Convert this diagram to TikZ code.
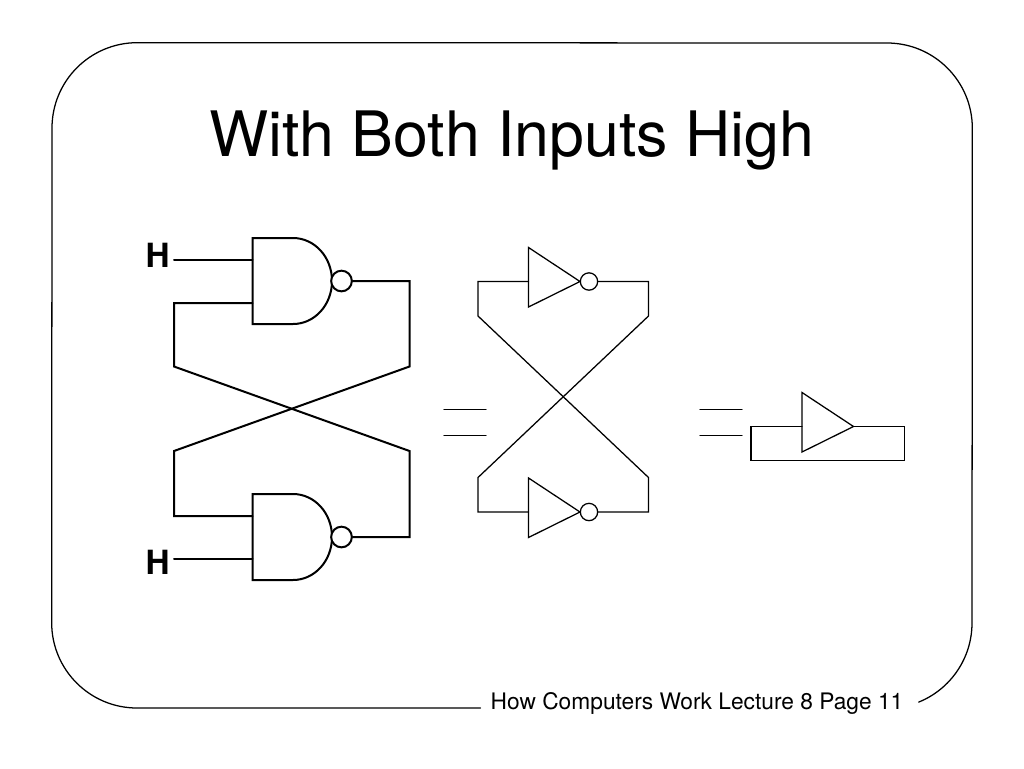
\documentclass[tikz,border=0pt]{standalone}
\usepackage{fontspec}
\setmainfont{TeX Gyre Heros}
\tikzset{
  x=0.75pt,y=-0.75pt,
  frameline/.style={line width=0.95pt,line join=round,line cap=round},
  heavy/.style={line width=1.5pt,line join=miter,line cap=round},
  thin wire/.style={line width=0.95pt,line join=miter,line cap=round},
  heavy bubble/.style={circle,draw,line width=1.5pt,fill=white,inner sep=0pt,minimum size=15.5pt},
  thin bubble/.style={circle,draw,line width=0.95pt,fill=white,inner sep=0pt,minimum size=13pt},
  gate/.pic={
    \draw[heavy] (-45,-43) -- (-45,43) -- (-4.5,43) .. controls (17,43) and (34.5,24) .. (34.5,0) .. controls (34.5,-24) and (17,-43) .. (-4.5,-43) -- cycle;
  },
  inverter/.pic={
    \draw[thin wire] (0,-34) -- (0,25.5) -- (51.5,0) -- cycle;
  },
}
\begin{document}
\begin{tikzpicture}
\useasboundingbox (0,0) rectangle (1024,768);
\fill[white] (0,0) rectangle (1024,768);
% frame
\draw[frameline] (480.5,708) -- (137,708) arc[start angle=90,end angle=180,x radius=64pt,y radius=-64pt]
  -- (52,128) arc[start angle=180,end angle=270,x radius=64pt,y radius=-64pt]
  -- (887,43) arc[start angle=270,end angle=360,x radius=64pt,y radius=-64pt]
  -- (972,623) arc[start angle=0,end angle=68,x radius=64pt,y radius=-64pt];
% texts
\node[anchor=base,inner sep=0pt,font=\fontsize{47}{58}\selectfont] (title) at (512,156) {With Both Inputs High};
\node[anchor=base,inner sep=0pt,font=\fontsize{17.05}{21}\selectfont] (foot) at (697,709) {How Computers Work Lecture 8 Page 11};
\node[anchor=base east,inner sep=0pt,inner xsep=3pt,font=\bfseries\fontsize{25}{30}\selectfont] (h1) at (174,267) {H};
\node[anchor=base east,inner sep=0pt,inner xsep=3pt,font=\bfseries\fontsize{25}{30}\selectfont] (h2) at (174,574) {H};
% left latch
\coordinate (g1a) at (252.5,260);
\coordinate (g1b) at (252.5,303);
\coordinate (g2a) at (252.5,516);
\coordinate (g2b) at (252.5,558.5);
\coordinate (lt1) at (174,303); \coordinate (lt2) at (174,366.5);
\coordinate (lb1) at (174,516); \coordinate (lb2) at (174,451);
\coordinate (rt1) at (409.5,281); \coordinate (rt2) at (409.5,366.5);
\coordinate (rb1) at (409.5,537); \coordinate (rb2) at (409.5,451);
\pic at (297.5,281) {gate};
\pic at (297.5,537) {gate};
\node[heavy bubble] (b1) at (341.5,281) {};
\node[heavy bubble] (b2) at (341.5,537) {};
\draw[heavy] (h1.east |- g1a) -- (g1a);
\draw[heavy] (h2.east |- g2b) -- (g2b);
\draw[heavy] (g1b) -- (lt1) -- (lt2) -- (rb2) -- (rb1) -- (b2.east);
\draw[heavy] (b1.east) -- (rt1) -- (rt2) -- (lb2) -- (lb1) -- (g2a);
% equals 1
\coordinate (e1a) at (444,409.5); \coordinate (e1b) at (486,409.5);
\coordinate (e2a) at (444,435.5); \coordinate (e2b) at (486,435.5);
\draw[thin wire] (e1a) -- (e1b); \draw[thin wire] (e2a) -- (e2b);
% middle latch
\coordinate (i1) at (528.5,281.5);
\coordinate (i2) at (528.5,512);
\coordinate (ml1) at (478,281.5); \coordinate (ml2) at (478,316);
\coordinate (ml3) at (478,512); \coordinate (ml4) at (478,477.5);
\coordinate (mr1) at (648.5,281.5); \coordinate (mr2) at (648.5,316);
\coordinate (mr3) at (648.5,512); \coordinate (mr4) at (648.5,477.5);
\pic at (i1) {inverter};
\pic at (i2) {inverter};
\node[thin bubble] (c1) at (589,281.5) {};
\node[thin bubble] (c2) at (589,512) {};
\draw[thin wire] (i1) -- (ml1) -- (ml2) -- (mr4) -- (mr3) -- (c2.east);
\draw[thin wire] (c1.east) -- (mr1) -- (mr2) -- (ml4) -- (ml3) -- (i2);
% equals 2
\coordinate (e3a) at (700,409.5); \coordinate (e3b) at (742,409.5);
\coordinate (e4a) at (700,435.5); \coordinate (e4b) at (742,435.5);
\draw[thin wire] (e3a) -- (e3b); \draw[thin wire] (e4a) -- (e4b);
% buffer loop
\coordinate (i3) at (802,426.5);
\coordinate (o3) at (853.5,426.5);
\coordinate (p1) at (751,426.5); \coordinate (p2) at (751,460.5);
\coordinate (p3) at (904.5,460.5); \coordinate (p4) at (904.5,426.5);
\pic at (i3) {inverter};
\draw[thin wire] (i3) -- (p1) -- (p2) -- (p3) -- (p4) -- (o3);
\end{tikzpicture}
\end{document}
